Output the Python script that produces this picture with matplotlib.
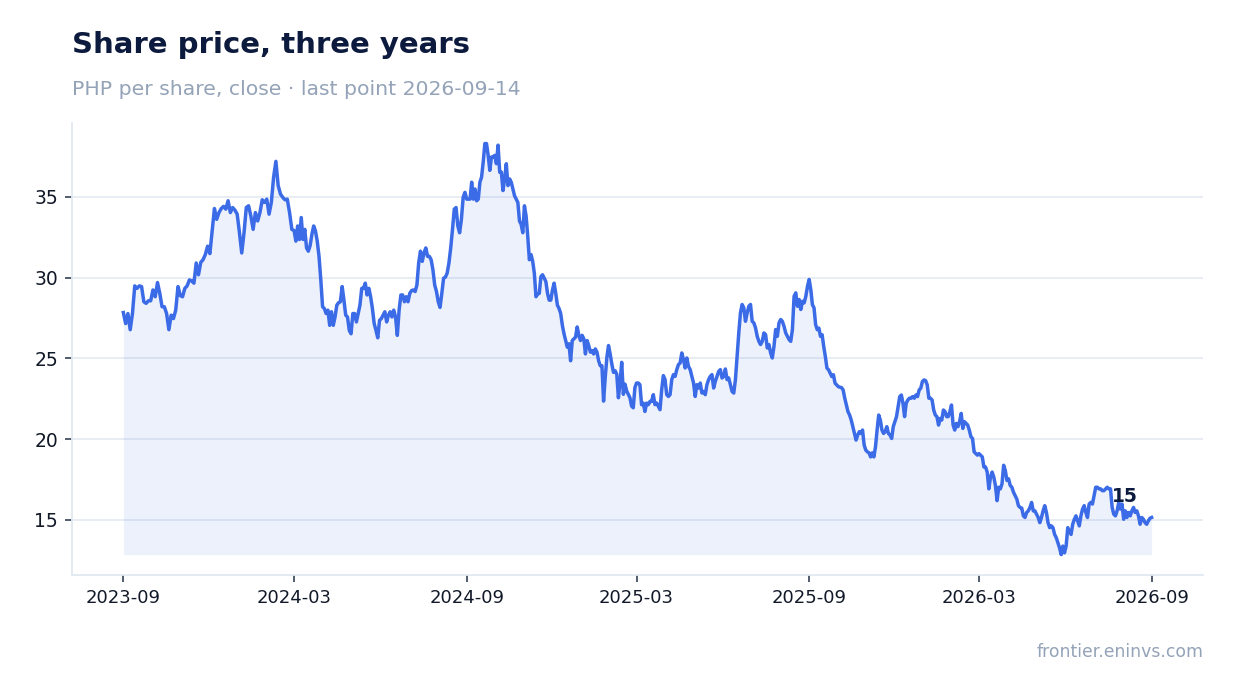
import numpy as np
import pandas as pd
import matplotlib
matplotlib.use("Agg")
import matplotlib.pyplot as plt
from matplotlib.ticker import MultipleLocator

# close prices, one list per six-month block
# (block boundaries are the tick dates)
bounds = ["2023-09-14", "2024-03-14", "2024-09-14", "2025-03-14",
          "2025-09-14", "2026-03-14", "2026-09-14"]

block1 = [27.83, 27.15, 27.77, 26.77, 27.77, 29.48, 29.33, 29.48, 29.44, 28.5, 28.4, 28.56, 28.56,
          29.23, 28.81, 29.69, 29.02, 28.19, 28.19, 27.77, 26.77, 27.67, 27.46, 27.98, 29.44, 28.88,
          28.81, 29.33, 29.48, 29.85, 29.79, 29.65, 30.9, 30.17, 30.94, 31.1, 31.42, 31.94, 31.48,
          32.88, 34.27, 33.6, 34.02, 34.27, 34.4, 34.23, 34.75, 34.02, 34.33, 34.17, 33.92, 32.77,
          31.52, 32.77, 34.33, 34.44, 33.81, 32.98, 34.02, 33.5, 34.02, 34.81, 34.65, 34.85, 33.92,
          34.65, 36.21, 37.19, 35.69, 35.17, 34.96, 34.81, 34.85, 34.02, 32.98]
block2 = [32.9, 32.25, 33.19, 32.35, 33.71, 32.35, 32.98, 31.83, 31.63, 31.98, 32.67, 33.19, 32.88,
          32.25, 31.31, 29.85, 28.19, 28.08, 27.77, 27.98, 27.04, 27.88, 27.04, 27.56, 28.29, 28.44,
          28.5, 29.44, 28.6, 27.67, 27.56, 26.73, 26.52, 27.77, 27.77, 27.25, 27.77, 28.29, 29.33,
          29.33, 29.65, 28.92, 29.33, 28.81, 28.08, 27.15, 26.73, 26.27, 27.35, 27.46, 27.67, 27.88,
          27.25, 27.67, 27.88, 27.56, 27.98, 27.56, 26.42, 27.98, 28.92, 28.92, 28.5, 28.81, 28.5,
          29.02, 29.19, 29.23, 29.13, 29.54, 30.9, 31.63, 31.0, 31.52, 31.83, 31.31, 31.31, 31.1,
          30.48, 29.54, 29.13, 28.5, 28.15, 29.02, 29.96, 30.02, 30.27, 30.9, 31.83, 32.98, 34.23,
          34.33, 33.19, 32.77, 33.6, 34.96, 35.27]
block3 = [34.85, 34.85, 34.85, 35.9, 34.85, 35.48, 34.75, 34.85, 35.9, 36.21, 37.15, 38.29, 38.29,
          37.56, 36.63, 37.46, 37.46, 37.56, 37.04, 38.19, 36.52, 36.52, 35.38, 36.1, 37.04, 35.69,
          36.1, 35.9, 35.48, 35.06, 34.85, 34.65, 33.5, 33.29, 32.77, 34.44, 33.81, 32.56, 31.1,
          31.42, 31.0, 30.27, 28.81, 28.98, 29.02, 30.06, 30.17, 29.96, 29.75, 29.02, 28.6, 28.6,
          29.23, 29.65, 29.02, 28.29, 28.08, 27.77, 27.04, 26.52, 26.1, 25.69, 25.9, 24.85, 26.1,
          26.21, 26.31, 26.94, 26.42, 26.1, 26.42, 26.21, 25.27, 26.1, 25.79, 25.38, 25.48, 25.27,
          25.58, 25.38, 24.85, 24.54, 24.54, 22.35, 23.81, 25.06, 25.79, 25.27, 24.65, 24.13, 24.23,
          24.02, 22.56, 23.5, 24.75, 22.77, 23.4, 22.98, 22.77, 22.56, 22.04, 21.94, 23.19]
block4 = [23.47, 23.47, 23.37, 22.13, 22.23, 21.71, 22.23, 22.13, 22.33, 22.33, 22.75, 22.13, 22.23,
          22.02, 21.82, 23.06, 23.93, 23.68, 22.75, 22.64, 22.75, 23.68, 23.99, 23.88, 24.3, 24.61,
          24.71, 25.33, 24.92, 24.4, 25.02, 24.5, 24.3, 23.88, 23.47, 22.64, 23.37, 23.16, 23.47,
          22.85, 22.95, 22.75, 23.37, 23.68, 23.88, 23.99, 23.16, 23.57, 23.88, 24.19, 24.3, 23.78,
          23.88, 24.34, 23.68, 23.78, 23.37, 22.95, 22.85, 23.68, 25.12, 26.57, 27.81, 28.33, 28.12,
          27.29, 27.81, 28.22, 28.33, 27.29, 27.19, 26.88, 26.36, 26.05, 25.85, 26.05, 26.57, 26.47,
          25.64, 25.85, 25.33, 25.02, 25.74, 26.78, 26.36, 27.19, 27.4, 27.29, 26.98, 26.57, 26.36,
          26.16, 26.05, 26.78, 28.84, 29.05, 28.22, 28.64, 28.02, 28.53, 28.43, 28.84, 29.46]
block5 = [29.88, 29.25, 28.32, 28.12, 27.08, 26.77, 26.87, 26.36, 26.46, 25.73, 25.11, 24.39, 24.29,
          24.08, 23.87, 23.98, 23.46, 23.35, 23.25, 23.21, 23.19, 23.04, 22.53, 22.11, 21.7, 21.49,
          21.18, 20.77, 20.35, 19.94, 20.25, 20.46, 20.35, 20.56, 19.63, 19.32, 19.21, 19.15, 18.9,
          19.15, 18.9, 19.52, 20.56, 21.49, 21.18, 20.56, 20.35, 20.46, 20.77, 20.35, 20.25, 20.04,
          20.77, 21.08, 21.39, 22.01, 22.63, 22.73, 22.22, 21.39, 22.22, 22.42, 22.53, 22.53, 22.63,
          22.53, 22.73, 22.63, 23.04, 23.15, 23.56, 23.66, 23.62, 23.35, 22.53, 22.53, 22.42, 21.8,
          21.49, 21.39, 20.87, 21.28, 21.18, 21.8, 21.7, 21.39, 21.39, 21.7, 22.11, 20.87, 20.56,
          20.97, 20.77, 21.08, 21.59, 20.66, 21.08, 20.97, 20.87, 20.56, 20.15, 20.04, 19.21, 19.11,
          19.01]
block6 = [19.1, 19.0, 18.9, 18.27, 18.27, 17.96, 16.92, 17.65, 17.96, 17.65, 17.13, 16.19, 17.02,
          16.92, 17.23, 18.38, 18.06, 17.44, 17.54, 17.13, 17.02, 16.71, 16.5, 16.29, 15.88, 15.77,
          15.73, 15.25, 15.15, 15.46, 15.56, 15.77, 16.08, 15.56, 15.56, 15.35, 15.15, 14.83, 15.15,
          15.56, 15.88, 15.46, 14.83, 14.52, 14.63, 14.52, 14.1, 13.9, 13.58, 13.27, 12.85, 13.38,
          12.96, 13.38, 14.52, 14.31, 14.1, 14.73, 15.04, 15.25, 14.94, 14.63, 15.25, 15.67, 15.88,
          15.46, 15.15, 15.98, 16.08, 15.98, 16.5, 17.02, 17.02, 16.92, 16.92, 16.81, 16.81, 16.92,
          17.02, 16.92, 16.92, 15.77, 15.35, 15.25, 15.56, 16.08, 15.67, 15.98, 15.04, 15.56, 15.15,
          15.46, 15.25, 15.56, 15.77, 15.46, 15.56, 15.25, 14.73, 15.15, 15.04, 14.83, 14.73, 14.94,
          15.1, 15.15]

blocks = [block1, block2, block3, block4, block5, block6]

title = "Share price, three years"
subtitle = "PHP per share, close \u00b7 last point 2026-09-14"
source = "frontier.eninvs.com"

LINE = "#3b6be6"
NAVY = "#0c1a3d"
GREY = "#94a3b8"
GRID = "#e2e8f0"


def build_series():
    # spread each block's points evenly over its six months
    edges = pd.to_datetime(bounds)
    dates, vals = [], []
    for i, blk in enumerate(blocks):
        last = i == len(blocks) - 1
        t = np.linspace(edges[i].value, edges[i + 1].value, len(blk), endpoint=last)
        dates.extend(pd.to_datetime(t))
        vals.extend(blk)
    return pd.DatetimeIndex(dates), np.array(vals)


def main():
    dates, price = build_series()

    fig = plt.figure(figsize=(12.34, 6.93), dpi=100)
    ax = fig.add_axes([0.0583, 0.170, 0.9166, 0.6525])

    ax.fill_between(dates, price, price.min(), color=LINE, alpha=0.09, lw=0)
    ax.plot(dates, price, color=LINE, lw=2.5, solid_joinstyle="round")

    ax.annotate(f"{price[-1]:.0f}", xy=(dates[-1], price[-1]), xytext=(-14, 15),
                textcoords="offset pixels", ha="right", va="baseline",
                fontsize=13.5, fontweight="bold", color=NAVY)

    ticks = pd.to_datetime(bounds)
    ax.set_xticks(ticks)
    ax.set_xticklabels([d.strftime("%Y-%m") for d in ticks])
    ax.yaxis.set_major_locator(MultipleLocator(5))
    ax.margins(x=0.05, y=0.05)

    ax.grid(axis="y", color=GRID, lw=1.1)
    ax.set_axisbelow(True)
    for s in ["top", "right"]:
        ax.spines[s].set_visible(False)
    for s in ["left", "bottom"]:
        ax.spines[s].set_color(GRID)
        ax.spines[s].set_linewidth(1.3)
    ax.tick_params(axis="both", colors="#334155", labelcolor="#111827",
                   labelsize=13, length=5, width=1.2, pad=5)
    ax.tick_params(axis="y", labelsize=13.5)

    fig.text(0.0583, 0.955, title, fontsize=21, fontweight="bold", color=NAVY, va="top")
    fig.text(0.0583, 0.885, subtitle, fontsize=14.7, color=GREY, va="top")
    fig.text(0.975, 0.059, source, fontsize=12.4, color=GREY, ha="right", va="center")

    fig.savefig("out.png", dpi=100)


if __name__ == "__main__":
    main()
